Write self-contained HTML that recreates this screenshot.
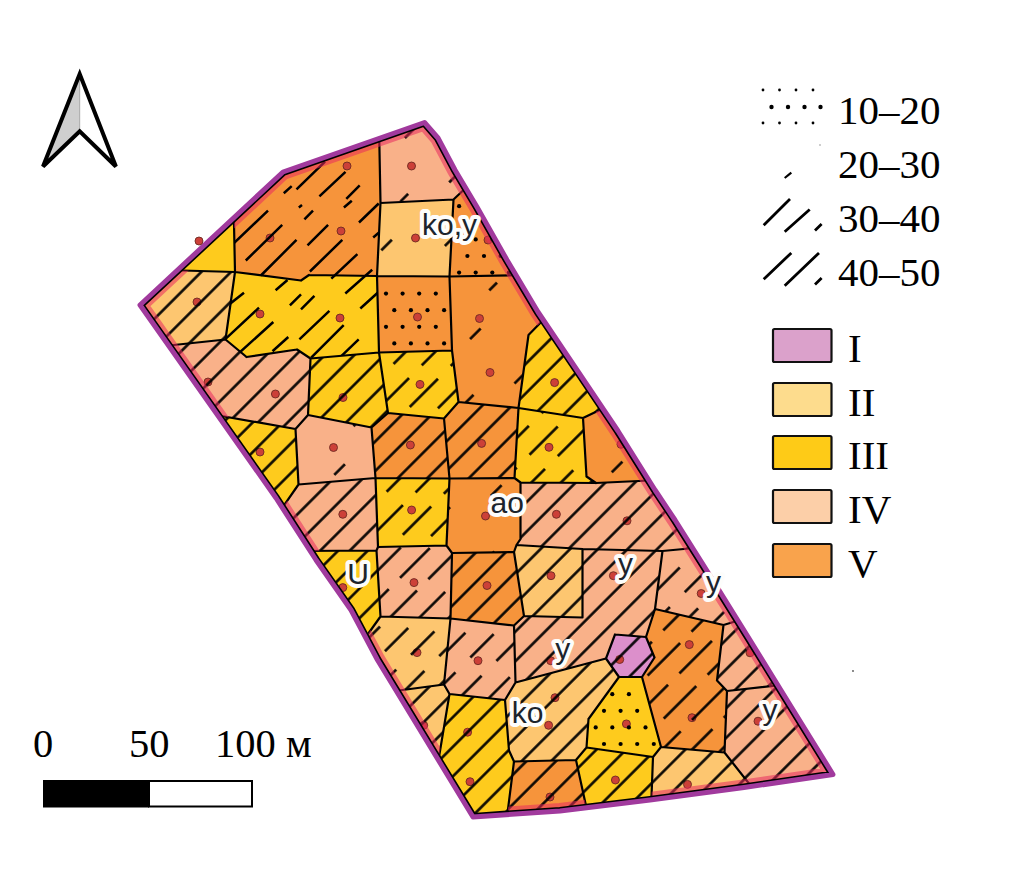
<!DOCTYPE html><html><head><meta charset="utf-8"><style>html,body{margin:0;padding:0;background:#fff;}svg{display:block;}</style></head><body>
<svg width="1011" height="874" viewBox="0 0 1011 874">
<defs>
<clipPath id="bc"><path d="M424.5,122.5 L283.0,172.0 L140.0,305.0 L276.0,498.0 L316.0,560.0 L351.0,610.0 L377.5,660.0 L473.0,817.0 L560.0,811.0 L650.0,800.0 L744.0,787.5 L833.0,774.5 L787.0,700.0 L750.0,640.0 L704.0,566.0 L675.0,520.0 L655.0,490.0 L618.0,431.0 L538.0,312.0 L507.0,260.0 L477.0,207.0 L455.0,170.0 L438.0,138.0 Z"/></clipPath>
<pattern id="p_C" patternUnits="userSpaceOnUse" width="96" height="62.791" patternTransform="translate(-4.80,0) rotate(-45)"><rect x="0" y="9.215" width="15" height="2.50" fill="#000"/><rect x="48" y="51.076" width="11" height="2.50" fill="#000"/></pattern>
<pattern id="p_D" patternUnits="userSpaceOnUse" width="96" height="62.791" patternTransform="translate(-4.80,0) rotate(-45)"><rect x="0" y="9.215" width="15" height="2.50" fill="#000"/><rect x="48" y="51.076" width="11" height="2.50" fill="#000"/></pattern>
<pattern id="p_E" patternUnits="userSpaceOnUse" x="455.10" y="235.40" width="16.6" height="33.2"><circle cx="4" cy="4" r="2.1" fill="#000"/><circle cx="12.3" cy="20.6" r="2.1" fill="#000"/></pattern>
<pattern id="p_F" patternUnits="userSpaceOnUse" width="200" height="20.930" patternTransform="translate(14.50,0) rotate(-45)"><rect x="0" y="9.215" width="200" height="2.50" fill="#000"/></pattern>
<pattern id="p_H" patternUnits="userSpaceOnUse" x="382.00" y="289.60" width="16.6" height="33.2"><circle cx="4" cy="4" r="2.1" fill="#000"/><circle cx="12.3" cy="20.6" r="2.1" fill="#000"/></pattern>
<pattern id="p_I" patternUnits="userSpaceOnUse" width="96" height="62.791" patternTransform="translate(-4.80,0) rotate(-45)"><rect x="0" y="9.215" width="15" height="2.50" fill="#000"/><rect x="48" y="51.076" width="11" height="2.50" fill="#000"/></pattern>
<pattern id="p_P" patternUnits="userSpaceOnUse" width="200" height="20.930" patternTransform="translate(-13.20,0) rotate(-45)"><rect x="0" y="9.215" width="200" height="2.50" fill="#000"/></pattern>
<pattern id="p_S" patternUnits="userSpaceOnUse" width="96" height="62.791" patternTransform="translate(3.70,0) rotate(-45)"><rect x="0" y="9.215" width="15" height="2.50" fill="#000"/><rect x="48" y="51.076" width="11" height="2.50" fill="#000"/></pattern>
<pattern id="p_R" patternUnits="userSpaceOnUse" width="58" height="62.791" patternTransform="translate(-7.30,0) rotate(-45)"><rect x="0.00" y="9.215" width="40" height="2.50" fill="#000"/><rect x="-58.00" y="9.215" width="40" height="2.50" fill="#000"/><rect x="19.00" y="30.146" width="40" height="2.50" fill="#000"/><rect x="-39.00" y="30.146" width="40" height="2.50" fill="#000"/><rect x="38.00" y="51.076" width="40" height="2.50" fill="#000"/><rect x="-20.00" y="51.076" width="40" height="2.50" fill="#000"/></pattern>
<pattern id="p_J" patternUnits="userSpaceOnUse" width="200" height="20.930" patternTransform="translate(14.50,0) rotate(-45)"><rect x="0" y="9.215" width="200" height="2.50" fill="#000"/></pattern>
<pattern id="p_K" patternUnits="userSpaceOnUse" width="200" height="20.930" patternTransform="translate(13.80,0) rotate(-45)"><rect x="0" y="9.215" width="200" height="2.50" fill="#000"/></pattern>
<pattern id="p_L" patternUnits="userSpaceOnUse" width="58" height="62.791" patternTransform="translate(2.70,0) rotate(-45)"><rect x="0.00" y="9.215" width="40" height="2.50" fill="#000"/><rect x="-58.00" y="9.215" width="40" height="2.50" fill="#000"/><rect x="19.00" y="30.146" width="40" height="2.50" fill="#000"/><rect x="-39.00" y="30.146" width="40" height="2.50" fill="#000"/><rect x="38.00" y="51.076" width="40" height="2.50" fill="#000"/><rect x="-20.00" y="51.076" width="40" height="2.50" fill="#000"/></pattern>
<pattern id="p_M" patternUnits="userSpaceOnUse" width="200" height="20.930" patternTransform="translate(9.20,0) rotate(-45)"><rect x="0" y="9.215" width="200" height="2.50" fill="#000"/></pattern>
<pattern id="p_N" patternUnits="userSpaceOnUse" width="96" height="62.791" patternTransform="translate(-4.80,0) rotate(-45)"><rect x="0" y="9.215" width="15" height="2.50" fill="#000"/><rect x="48" y="51.076" width="11" height="2.50" fill="#000"/></pattern>
<pattern id="p_O" patternUnits="userSpaceOnUse" width="200" height="20.930" patternTransform="translate(2.70,0) rotate(-45)"><rect x="0" y="9.215" width="200" height="2.50" fill="#000"/></pattern>
<pattern id="p_Q" patternUnits="userSpaceOnUse" width="200" height="20.930" patternTransform="translate(14.70,0) rotate(-45)"><rect x="0" y="9.215" width="200" height="2.50" fill="#000"/></pattern>
<pattern id="p_T" patternUnits="userSpaceOnUse" width="58" height="62.791" patternTransform="translate(5.20,0) rotate(-45)"><rect x="0.00" y="9.215" width="40" height="2.50" fill="#000"/><rect x="-58.00" y="9.215" width="40" height="2.50" fill="#000"/><rect x="19.00" y="30.146" width="40" height="2.50" fill="#000"/><rect x="-39.00" y="30.146" width="40" height="2.50" fill="#000"/><rect x="38.00" y="51.076" width="40" height="2.50" fill="#000"/><rect x="-20.00" y="51.076" width="40" height="2.50" fill="#000"/></pattern>
<pattern id="p_U" patternUnits="userSpaceOnUse" width="96" height="62.791" patternTransform="translate(-4.80,0) rotate(-45)"><rect x="0" y="9.215" width="15" height="2.50" fill="#000"/><rect x="48" y="51.076" width="11" height="2.50" fill="#000"/></pattern>
<pattern id="p_Z" patternUnits="userSpaceOnUse" width="200" height="20.930" patternTransform="translate(-2.30,0) rotate(-45)"><rect x="0" y="9.215" width="200" height="2.50" fill="#000"/></pattern>
<pattern id="p_Up" patternUnits="userSpaceOnUse" width="200" height="20.930" patternTransform="translate(-14.00,0) rotate(-45)"><rect x="0" y="9.215" width="200" height="2.50" fill="#000"/></pattern>
<pattern id="p_AA" patternUnits="userSpaceOnUse" width="58" height="62.791" patternTransform="translate(-13.70,0) rotate(-45)"><rect x="0.00" y="9.215" width="42" height="2.50" fill="#000"/><rect x="-58.00" y="9.215" width="42" height="2.50" fill="#000"/><rect x="19.00" y="30.146" width="42" height="2.50" fill="#000"/><rect x="-39.00" y="30.146" width="42" height="2.50" fill="#000"/><rect x="38.00" y="51.076" width="42" height="2.50" fill="#000"/><rect x="-20.00" y="51.076" width="42" height="2.50" fill="#000"/></pattern>
<pattern id="p_AB" patternUnits="userSpaceOnUse" width="200" height="20.930" patternTransform="translate(7.20,0) rotate(-45)"><rect x="0" y="9.215" width="200" height="2.50" fill="#000"/></pattern>
<pattern id="p_V" patternUnits="userSpaceOnUse" width="200" height="20.930" patternTransform="translate(7.50,0) rotate(-45)"><rect x="0" y="9.215" width="200" height="2.50" fill="#000"/></pattern>
<pattern id="p_W" patternUnits="userSpaceOnUse" width="200" height="20.930" patternTransform="translate(9.20,0) rotate(-45)"><rect x="0" y="9.215" width="200" height="2.50" fill="#000"/></pattern>
<pattern id="p_X" patternUnits="userSpaceOnUse" width="200" height="20.930" patternTransform="translate(7.40,0) rotate(-45)"><rect x="0" y="9.215" width="200" height="2.50" fill="#000"/></pattern>
<pattern id="p_Y" patternUnits="userSpaceOnUse" width="54" height="62.791" patternTransform="translate(-10.70,0) rotate(-45)"><rect x="0.00" y="9.215" width="33" height="2.50" fill="#000"/><rect x="-54.00" y="9.215" width="33" height="2.50" fill="#000"/><rect x="19.00" y="30.146" width="33" height="2.50" fill="#000"/><rect x="-35.00" y="30.146" width="33" height="2.50" fill="#000"/><rect x="38.00" y="51.076" width="33" height="2.50" fill="#000"/><rect x="-16.00" y="51.076" width="33" height="2.50" fill="#000"/></pattern>
<pattern id="p_OR" patternUnits="userSpaceOnUse" width="62" height="62.791" patternTransform="translate(6.00,0) rotate(-45)"><rect x="0.00" y="9.215" width="46" height="2.50" fill="#000"/><rect x="-62.00" y="9.215" width="46" height="2.50" fill="#000"/><rect x="19.00" y="30.146" width="46" height="2.50" fill="#000"/><rect x="-43.00" y="30.146" width="46" height="2.50" fill="#000"/><rect x="38.00" y="51.076" width="46" height="2.50" fill="#000"/><rect x="-24.00" y="51.076" width="46" height="2.50" fill="#000"/></pattern>
<pattern id="p_AF" patternUnits="userSpaceOnUse" width="200" height="20.930" patternTransform="translate(-10.50,0) rotate(-45)"><rect x="0" y="9.215" width="200" height="2.50" fill="#000"/></pattern>
<pattern id="p_AG" patternUnits="userSpaceOnUse" width="200" height="20.930" patternTransform="translate(-1.20,0) rotate(-45)"><rect x="0" y="9.215" width="200" height="2.50" fill="#000"/></pattern>
<pattern id="p_AH" patternUnits="userSpaceOnUse" width="200" height="20.930" patternTransform="translate(-0.70,0) rotate(-45)"><rect x="0" y="9.215" width="200" height="2.50" fill="#000"/></pattern>
<pattern id="p_HEX" patternUnits="userSpaceOnUse" width="200" height="20.930" patternTransform="translate(-11.10,0) rotate(-45)"><rect x="0" y="9.215" width="200" height="2.50" fill="#000"/></pattern>
<pattern id="p_DY" patternUnits="userSpaceOnUse" x="600.00" y="706.80" width="16.6" height="33.2"><circle cx="4" cy="4" r="2.1" fill="#000"/><circle cx="12.3" cy="20.6" r="2.1" fill="#000"/></pattern>
<pattern id="p_KO" patternUnits="userSpaceOnUse" width="200" height="20.930" patternTransform="translate(-4.80,0) rotate(-45)"><rect x="0" y="9.215" width="200" height="2.50" fill="#000"/></pattern>
<pattern id="p_AD" patternUnits="userSpaceOnUse" width="54" height="62.791" patternTransform="translate(-11.80,0) rotate(-45)"><rect x="0.00" y="9.215" width="33" height="2.50" fill="#000"/><rect x="-54.00" y="9.215" width="33" height="2.50" fill="#000"/><rect x="19.00" y="30.146" width="33" height="2.50" fill="#000"/><rect x="-35.00" y="30.146" width="33" height="2.50" fill="#000"/><rect x="38.00" y="51.076" width="33" height="2.50" fill="#000"/><rect x="-16.00" y="51.076" width="33" height="2.50" fill="#000"/></pattern>
<pattern id="p_AC1" patternUnits="userSpaceOnUse" width="54" height="62.791" patternTransform="translate(-14.60,0) rotate(-45)"><rect x="0.00" y="9.215" width="33" height="2.50" fill="#000"/><rect x="-54.00" y="9.215" width="33" height="2.50" fill="#000"/><rect x="19.00" y="30.146" width="33" height="2.50" fill="#000"/><rect x="-35.00" y="30.146" width="33" height="2.50" fill="#000"/><rect x="38.00" y="51.076" width="33" height="2.50" fill="#000"/><rect x="-16.00" y="51.076" width="33" height="2.50" fill="#000"/></pattern>
<pattern id="p_AC2" patternUnits="userSpaceOnUse" width="200" height="20.930" patternTransform="translate(6.20,0) rotate(-45)"><rect x="0" y="9.215" width="200" height="2.50" fill="#000"/></pattern>
<pattern id="p_AE" patternUnits="userSpaceOnUse" width="200" height="20.930" patternTransform="translate(0.90,0) rotate(-45)"><rect x="0" y="9.215" width="200" height="2.50" fill="#000"/></pattern>
<pattern id="p_AI" patternUnits="userSpaceOnUse" width="200" height="20.930" patternTransform="translate(-0.00,0) rotate(-45)"><rect x="0" y="9.215" width="200" height="2.50" fill="#000"/></pattern>
<pattern id="p_AJ" patternUnits="userSpaceOnUse" width="200" height="20.930" patternTransform="translate(-0.70,0) rotate(-45)"><rect x="0" y="9.215" width="200" height="2.50" fill="#000"/></pattern>
<clipPath id="c_A"><polygon points="233.5,200.0 235.0,272.0 165.0,270.0 110.0,300.0 120.0,200.0"/></clipPath>
<clipPath id="c_B"><polygon points="233.5,200.0 120.0,200.0 290.0,140.0 430.0,100.0 379.0,125.0 380.5,203.0 377.0,276.0 309.0,275.0 301.0,280.5 235.0,272.0"/></clipPath>
<clipPath id="c_C"><polygon points="379.0,125.0 430.0,100.0 560.0,200.0 472.0,182.0 453.5,199.5 380.5,203.0"/></clipPath>
<clipPath id="c_D"><polygon points="380.5,203.0 453.5,199.5 449.5,276.5 377.0,276.0"/></clipPath>
<clipPath id="c_E"><polygon points="453.5,199.5 472.0,182.0 560.0,200.0 530.0,275.0 449.5,276.5"/></clipPath>
<clipPath id="c_F"><polygon points="165.0,270.0 235.0,272.0 225.5,339.5 155.0,347.0 110.0,300.0"/></clipPath>
<clipPath id="c_G"><polygon points="235.0,272.0 301.0,280.5 309.0,275.0 377.0,276.0 379.0,352.5 310.5,358.5 297.0,349.5 246.5,357.0 243.0,354.0 225.5,339.5"/></clipPath>
<clipPath id="c_H"><polygon points="377.0,276.0 449.5,276.5 452.0,350.5 379.0,352.5"/></clipPath>
<clipPath id="c_I"><polygon points="449.5,276.5 530.0,275.0 560.0,200.0 548.0,315.0 528.5,335.0 518.5,408.0 458.5,402.0 452.0,350.5"/></clipPath>
<clipPath id="c_P"><polygon points="548.0,315.0 560.0,200.0 700.0,460.0 606.0,407.0 583.0,418.0 518.5,408.0 528.5,335.0"/></clipPath>
<clipPath id="c_S"><polygon points="606.0,407.0 700.0,460.0 660.0,480.0 596.0,483.0 586.5,476.5 583.0,418.0"/></clipPath>
<clipPath id="c_R"><polygon points="518.5,408.0 583.0,418.0 586.5,476.5 596.0,483.0 520.5,482.5 514.5,478.0"/></clipPath>
<clipPath id="c_J"><polygon points="155.0,347.0 225.5,339.5 243.0,354.0 246.5,357.0 297.0,349.5 310.5,358.5 308.0,415.0 295.5,429.0 210.0,414.0 110.0,300.0"/></clipPath>
<clipPath id="c_K"><polygon points="310.5,358.5 379.0,352.5 388.0,413.0 371.5,427.5 308.0,415.0"/></clipPath>
<clipPath id="c_L"><polygon points="379.0,352.5 452.0,350.5 458.5,402.0 444.0,418.5 388.0,413.0"/></clipPath>
<clipPath id="c_M"><polygon points="210.0,414.0 295.5,429.0 298.5,484.5 278.0,514.0 250.0,520.0 110.0,300.0"/></clipPath>
<clipPath id="c_N"><polygon points="295.5,429.0 308.0,415.0 371.5,427.5 375.5,478.0 298.5,484.5"/></clipPath>
<clipPath id="c_O"><polygon points="371.5,427.5 388.0,413.0 444.0,418.5 449.5,478.5 375.5,478.0"/></clipPath>
<clipPath id="c_Q"><polygon points="444.0,418.5 458.5,402.0 518.5,408.0 514.5,478.0 449.5,478.5"/></clipPath>
<clipPath id="c_T"><polygon points="375.5,478.0 449.5,478.5 446.5,545.5 378.0,547.0"/></clipPath>
<clipPath id="c_U"><polygon points="449.5,478.5 514.5,478.0 520.5,482.5 520.5,539.0 516.5,545.0 514.0,552.0 452.0,553.0 446.5,545.5"/></clipPath>
<clipPath id="c_Z"><polygon points="298.5,484.5 375.5,478.0 378.0,547.0 376.5,550.5 300.0,551.0 250.0,520.0 278.0,514.0"/></clipPath>
<clipPath id="c_Up"><polygon points="300.0,551.0 376.5,550.5 380.5,616.5 358.0,648.0 330.0,640.0 250.0,520.0"/></clipPath>
<clipPath id="c_AA"><polygon points="376.5,550.5 378.0,547.0 446.5,545.5 452.0,553.0 450.5,618.5 380.5,616.5"/></clipPath>
<clipPath id="c_AB"><polygon points="452.0,553.0 514.0,552.0 524.0,616.0 514.0,625.5 450.5,618.5"/></clipPath>
<clipPath id="c_V"><polygon points="520.5,482.5 596.0,483.0 660.0,480.0 700.0,460.0 705.0,547.0 662.5,551.0 582.5,549.0 516.5,545.0 520.5,539.0"/></clipPath>
<clipPath id="c_W"><polygon points="516.5,545.0 582.5,549.0 582.5,617.5 524.0,616.0 514.0,552.0"/></clipPath>
<clipPath id="c_X"><polygon points="582.5,549.0 662.5,551.0 655.0,609.0 646.0,637.0 615.0,634.5 606.0,658.5 515.5,682.5 514.0,625.5 524.0,616.0 582.5,617.5"/></clipPath>
<clipPath id="c_Y"><polygon points="662.5,551.0 705.0,547.0 850.0,700.0 750.0,617.0 723.5,625.0 655.0,609.0"/></clipPath>
<clipPath id="c_OR"><polygon points="655.0,609.0 723.5,625.0 717.0,680.5 727.0,691.0 724.5,752.5 661.0,747.0 642.0,677.0 654.5,657.5 646.0,637.0"/></clipPath>
<clipPath id="c_AF"><polygon points="750.0,617.0 850.0,700.0 790.0,684.0 727.0,691.0 717.0,680.5 723.5,625.0"/></clipPath>
<clipPath id="c_AG"><polygon points="727.0,691.0 790.0,684.0 850.0,700.0 860.0,790.0 758.0,795.0 724.5,752.5"/></clipPath>
<clipPath id="c_AH"><polygon points="653.0,757.0 661.0,747.0 724.5,752.5 758.0,795.0 860.0,790.0 470.0,840.0 651.0,810.0"/></clipPath>
<clipPath id="c_HEX"><polygon points="615.0,634.5 646.0,637.0 654.5,657.5 642.0,677.0 619.0,677.0 606.0,658.5"/></clipPath>
<clipPath id="c_DY"><polygon points="619.0,677.0 642.0,677.0 661.0,747.0 653.0,757.0 586.5,747.5 588.5,719.0"/></clipPath>
<clipPath id="c_KO"><polygon points="515.5,682.5 606.0,658.5 619.0,677.0 588.5,719.0 586.5,747.5 576.0,760.0 514.0,761.5 509.0,750.5 505.0,700.0"/></clipPath>
<clipPath id="c_AD"><polygon points="450.5,618.5 514.0,625.5 515.5,682.5 505.0,700.0 449.5,694.0 444.0,684.5"/></clipPath>
<clipPath id="c_AC1"><polygon points="380.5,616.5 450.5,618.5 444.0,684.5 380.0,693.0 330.0,640.0 358.0,648.0"/></clipPath>
<clipPath id="c_AC2"><polygon points="380.0,693.0 444.0,684.5 449.5,694.0 436.0,775.0 470.0,840.0 330.0,640.0"/></clipPath>
<clipPath id="c_AE"><polygon points="449.5,694.0 505.0,700.0 509.0,750.5 514.0,761.5 506.0,825.0 470.0,840.0 436.0,775.0"/></clipPath>
<clipPath id="c_AI"><polygon points="514.0,761.5 576.0,760.0 588.0,815.0 470.0,840.0 506.0,825.0"/></clipPath>
<clipPath id="c_AJ"><polygon points="576.0,760.0 586.5,747.5 653.0,757.0 651.0,810.0 470.0,840.0 588.0,815.0"/></clipPath>
</defs>
<rect width="1011" height="874" fill="#fff"/>
<g clip-path="url(#bc)">
<polygon points="233.5,200.0 235.0,272.0 165.0,270.0 110.0,300.0 120.0,200.0" fill="#FECB1D"/>
<polygon points="233.5,200.0 120.0,200.0 290.0,140.0 430.0,100.0 379.0,125.0 380.5,203.0 377.0,276.0 309.0,275.0 301.0,280.5 235.0,272.0" fill="#F6943B"/>
<polygon points="379.0,125.0 430.0,100.0 560.0,200.0 472.0,182.0 453.5,199.5 380.5,203.0" fill="#F9B189"/>
<polygon points="380.5,203.0 453.5,199.5 449.5,276.5 377.0,276.0" fill="#FDC670"/>
<polygon points="453.5,199.5 472.0,182.0 560.0,200.0 530.0,275.0 449.5,276.5" fill="#F6943B"/>
<polygon points="165.0,270.0 235.0,272.0 225.5,339.5 155.0,347.0 110.0,300.0" fill="#FDC670"/>
<polygon points="235.0,272.0 301.0,280.5 309.0,275.0 377.0,276.0 379.0,352.5 310.5,358.5 297.0,349.5 246.5,357.0 243.0,354.0 225.5,339.5" fill="#FECB1D"/>
<polygon points="377.0,276.0 449.5,276.5 452.0,350.5 379.0,352.5" fill="#F6943B"/>
<polygon points="449.5,276.5 530.0,275.0 560.0,200.0 548.0,315.0 528.5,335.0 518.5,408.0 458.5,402.0 452.0,350.5" fill="#F6943B"/>
<polygon points="548.0,315.0 560.0,200.0 700.0,460.0 606.0,407.0 583.0,418.0 518.5,408.0 528.5,335.0" fill="#FECB1D"/>
<polygon points="606.0,407.0 700.0,460.0 660.0,480.0 596.0,483.0 586.5,476.5 583.0,418.0" fill="#F6943B"/>
<polygon points="518.5,408.0 583.0,418.0 586.5,476.5 596.0,483.0 520.5,482.5 514.5,478.0" fill="#FECB1D"/>
<polygon points="155.0,347.0 225.5,339.5 243.0,354.0 246.5,357.0 297.0,349.5 310.5,358.5 308.0,415.0 295.5,429.0 210.0,414.0 110.0,300.0" fill="#F9B189"/>
<polygon points="310.5,358.5 379.0,352.5 388.0,413.0 371.5,427.5 308.0,415.0" fill="#FECB1D"/>
<polygon points="379.0,352.5 452.0,350.5 458.5,402.0 444.0,418.5 388.0,413.0" fill="#FECB1D"/>
<polygon points="210.0,414.0 295.5,429.0 298.5,484.5 278.0,514.0 250.0,520.0 110.0,300.0" fill="#FECB1D"/>
<polygon points="295.5,429.0 308.0,415.0 371.5,427.5 375.5,478.0 298.5,484.5" fill="#F9B189"/>
<polygon points="371.5,427.5 388.0,413.0 444.0,418.5 449.5,478.5 375.5,478.0" fill="#F6943B"/>
<polygon points="444.0,418.5 458.5,402.0 518.5,408.0 514.5,478.0 449.5,478.5" fill="#F6943B"/>
<polygon points="375.5,478.0 449.5,478.5 446.5,545.5 378.0,547.0" fill="#FECB1D"/>
<polygon points="449.5,478.5 514.5,478.0 520.5,482.5 520.5,539.0 516.5,545.0 514.0,552.0 452.0,553.0 446.5,545.5" fill="#F6943B"/>
<polygon points="298.5,484.5 375.5,478.0 378.0,547.0 376.5,550.5 300.0,551.0 250.0,520.0 278.0,514.0" fill="#F9B189"/>
<polygon points="300.0,551.0 376.5,550.5 380.5,616.5 358.0,648.0 330.0,640.0 250.0,520.0" fill="#FECB1D"/>
<polygon points="376.5,550.5 378.0,547.0 446.5,545.5 452.0,553.0 450.5,618.5 380.5,616.5" fill="#F9B189"/>
<polygon points="452.0,553.0 514.0,552.0 524.0,616.0 514.0,625.5 450.5,618.5" fill="#F6943B"/>
<polygon points="520.5,482.5 596.0,483.0 660.0,480.0 700.0,460.0 705.0,547.0 662.5,551.0 582.5,549.0 516.5,545.0 520.5,539.0" fill="#F9B189"/>
<polygon points="516.5,545.0 582.5,549.0 582.5,617.5 524.0,616.0 514.0,552.0" fill="#FDC670"/>
<polygon points="582.5,549.0 662.5,551.0 655.0,609.0 646.0,637.0 615.0,634.5 606.0,658.5 515.5,682.5 514.0,625.5 524.0,616.0 582.5,617.5" fill="#F9B189"/>
<polygon points="662.5,551.0 705.0,547.0 850.0,700.0 750.0,617.0 723.5,625.0 655.0,609.0" fill="#F9B189"/>
<polygon points="655.0,609.0 723.5,625.0 717.0,680.5 727.0,691.0 724.5,752.5 661.0,747.0 642.0,677.0 654.5,657.5 646.0,637.0" fill="#F6943B"/>
<polygon points="750.0,617.0 850.0,700.0 790.0,684.0 727.0,691.0 717.0,680.5 723.5,625.0" fill="#F9B189"/>
<polygon points="727.0,691.0 790.0,684.0 850.0,700.0 860.0,790.0 758.0,795.0 724.5,752.5" fill="#F9B189"/>
<polygon points="653.0,757.0 661.0,747.0 724.5,752.5 758.0,795.0 860.0,790.0 470.0,840.0 651.0,810.0" fill="#FDC670"/>
<polygon points="615.0,634.5 646.0,637.0 654.5,657.5 642.0,677.0 619.0,677.0 606.0,658.5" fill="#DC8FCB"/>
<polygon points="619.0,677.0 642.0,677.0 661.0,747.0 653.0,757.0 586.5,747.5 588.5,719.0" fill="#FECB1D"/>
<polygon points="515.5,682.5 606.0,658.5 619.0,677.0 588.5,719.0 586.5,747.5 576.0,760.0 514.0,761.5 509.0,750.5 505.0,700.0" fill="#FDC670"/>
<polygon points="450.5,618.5 514.0,625.5 515.5,682.5 505.0,700.0 449.5,694.0 444.0,684.5" fill="#F9B189"/>
<polygon points="380.5,616.5 450.5,618.5 444.0,684.5 380.0,693.0 330.0,640.0 358.0,648.0" fill="#FDC670"/>
<polygon points="380.0,693.0 444.0,684.5 449.5,694.0 436.0,775.0 470.0,840.0 330.0,640.0" fill="#FDC670"/>
<polygon points="449.5,694.0 505.0,700.0 509.0,750.5 514.0,761.5 506.0,825.0 470.0,840.0 436.0,775.0" fill="#FECB1D"/>
<polygon points="514.0,761.5 576.0,760.0 588.0,815.0 470.0,840.0 506.0,825.0" fill="#F6943B"/>
<polygon points="576.0,760.0 586.5,747.5 653.0,757.0 651.0,810.0 470.0,840.0 588.0,815.0" fill="#FECB1D"/>
<circle cx="270.0" cy="238.0" r="4.0" fill="#CC4038" stroke="#6e2a22" stroke-width="0.9"/>
<circle cx="341.0" cy="231.0" r="4.0" fill="#CC4038" stroke="#6e2a22" stroke-width="0.9"/>
<circle cx="347.0" cy="166.0" r="4.0" fill="#CC4038" stroke="#6e2a22" stroke-width="0.9"/>
<circle cx="411.5" cy="166.0" r="4.0" fill="#CC4038" stroke="#6e2a22" stroke-width="0.9"/>
<circle cx="415.5" cy="238.0" r="4.0" fill="#CC4038" stroke="#6e2a22" stroke-width="0.9"/>
<circle cx="488.0" cy="240.0" r="4.0" fill="#CC4038" stroke="#6e2a22" stroke-width="0.9"/>
<circle cx="197.0" cy="302.0" r="4.0" fill="#CC4038" stroke="#6e2a22" stroke-width="0.9"/>
<circle cx="260.0" cy="314.0" r="4.0" fill="#CC4038" stroke="#6e2a22" stroke-width="0.9"/>
<circle cx="340.0" cy="318.0" r="4.0" fill="#CC4038" stroke="#6e2a22" stroke-width="0.9"/>
<circle cx="417.5" cy="317.0" r="4.0" fill="#CC4038" stroke="#6e2a22" stroke-width="0.9"/>
<circle cx="479.5" cy="318.5" r="4.0" fill="#CC4038" stroke="#6e2a22" stroke-width="0.9"/>
<circle cx="490.0" cy="372.5" r="4.0" fill="#CC4038" stroke="#6e2a22" stroke-width="0.9"/>
<circle cx="554.6" cy="382.6" r="4.0" fill="#CC4038" stroke="#6e2a22" stroke-width="0.9"/>
<circle cx="208.0" cy="382.0" r="4.0" fill="#CC4038" stroke="#6e2a22" stroke-width="0.9"/>
<circle cx="275.4" cy="394.0" r="4.0" fill="#CC4038" stroke="#6e2a22" stroke-width="0.9"/>
<circle cx="343.0" cy="397.5" r="4.0" fill="#CC4038" stroke="#6e2a22" stroke-width="0.9"/>
<circle cx="420.0" cy="384.4" r="4.0" fill="#CC4038" stroke="#6e2a22" stroke-width="0.9"/>
<circle cx="260.0" cy="452.0" r="4.0" fill="#CC4038" stroke="#6e2a22" stroke-width="0.9"/>
<circle cx="333.5" cy="447.5" r="4.0" fill="#CC4038" stroke="#6e2a22" stroke-width="0.9"/>
<circle cx="410.4" cy="445.0" r="4.0" fill="#CC4038" stroke="#6e2a22" stroke-width="0.9"/>
<circle cx="481.6" cy="443.4" r="4.0" fill="#CC4038" stroke="#6e2a22" stroke-width="0.9"/>
<circle cx="549.0" cy="447.3" r="4.0" fill="#CC4038" stroke="#6e2a22" stroke-width="0.9"/>
<circle cx="621.0" cy="444.3" r="4.0" fill="#CC4038" stroke="#6e2a22" stroke-width="0.9"/>
<circle cx="342.8" cy="514.3" r="4.0" fill="#CC4038" stroke="#6e2a22" stroke-width="0.9"/>
<circle cx="411.6" cy="510.0" r="4.0" fill="#CC4038" stroke="#6e2a22" stroke-width="0.9"/>
<circle cx="485.5" cy="516.0" r="4.0" fill="#CC4038" stroke="#6e2a22" stroke-width="0.9"/>
<circle cx="556.4" cy="514.3" r="4.0" fill="#CC4038" stroke="#6e2a22" stroke-width="0.9"/>
<circle cx="627.0" cy="520.8" r="4.0" fill="#CC4038" stroke="#6e2a22" stroke-width="0.9"/>
<circle cx="342.8" cy="587.6" r="4.0" fill="#CC4038" stroke="#6e2a22" stroke-width="0.9"/>
<circle cx="414.0" cy="582.6" r="4.0" fill="#CC4038" stroke="#6e2a22" stroke-width="0.9"/>
<circle cx="487.0" cy="585.5" r="4.0" fill="#CC4038" stroke="#6e2a22" stroke-width="0.9"/>
<circle cx="551.0" cy="575.7" r="4.0" fill="#CC4038" stroke="#6e2a22" stroke-width="0.9"/>
<circle cx="613.4" cy="575.7" r="4.0" fill="#CC4038" stroke="#6e2a22" stroke-width="0.9"/>
<circle cx="701.2" cy="593.5" r="4.0" fill="#CC4038" stroke="#6e2a22" stroke-width="0.9"/>
<circle cx="417.0" cy="652.6" r="4.0" fill="#CC4038" stroke="#6e2a22" stroke-width="0.9"/>
<circle cx="478.0" cy="660.7" r="4.0" fill="#CC4038" stroke="#6e2a22" stroke-width="0.9"/>
<circle cx="550.7" cy="660.7" r="4.0" fill="#CC4038" stroke="#6e2a22" stroke-width="0.9"/>
<circle cx="619.7" cy="659.5" r="4.0" fill="#CC4038" stroke="#6e2a22" stroke-width="0.9"/>
<circle cx="689.3" cy="644.6" r="4.0" fill="#CC4038" stroke="#6e2a22" stroke-width="0.9"/>
<circle cx="750.0" cy="652.8" r="4.0" fill="#CC4038" stroke="#6e2a22" stroke-width="0.9"/>
<circle cx="555.0" cy="697.7" r="4.0" fill="#CC4038" stroke="#6e2a22" stroke-width="0.9"/>
<circle cx="423.7" cy="725.3" r="4.0" fill="#CC4038" stroke="#6e2a22" stroke-width="0.9"/>
<circle cx="467.6" cy="732.2" r="4.0" fill="#CC4038" stroke="#6e2a22" stroke-width="0.9"/>
<circle cx="548.6" cy="725.3" r="4.0" fill="#CC4038" stroke="#6e2a22" stroke-width="0.9"/>
<circle cx="626.4" cy="723.9" r="4.0" fill="#CC4038" stroke="#6e2a22" stroke-width="0.9"/>
<circle cx="692.0" cy="717.7" r="4.0" fill="#CC4038" stroke="#6e2a22" stroke-width="0.9"/>
<circle cx="758.0" cy="721.2" r="4.0" fill="#CC4038" stroke="#6e2a22" stroke-width="0.9"/>
<circle cx="470.0" cy="781.7" r="4.0" fill="#CC4038" stroke="#6e2a22" stroke-width="0.9"/>
<circle cx="550.0" cy="797.0" r="4.0" fill="#CC4038" stroke="#6e2a22" stroke-width="0.9"/>
<circle cx="615.4" cy="780.0" r="4.0" fill="#CC4038" stroke="#6e2a22" stroke-width="0.9"/>
<circle cx="687.5" cy="784.4" r="4.0" fill="#CC4038" stroke="#6e2a22" stroke-width="0.9"/>
<rect x="100" y="100" width="760" height="740" fill="url(#p_C)" clip-path="url(#c_C)"/>
<rect x="100" y="100" width="760" height="740" fill="url(#p_D)" clip-path="url(#c_D)"/>
<g fill="#000"><circle cx="459.1" cy="206.2" r="2.1"/><circle cx="467.4" cy="222.8" r="2.1"/><circle cx="459.1" cy="239.4" r="2.1"/><circle cx="467.4" cy="256.0" r="2.1"/><circle cx="475.7" cy="239.4" r="2.1"/><circle cx="484.0" cy="256.0" r="2.1"/><circle cx="492.3" cy="239.4" r="2.1"/><circle cx="500.6" cy="256.0" r="2.1"/><circle cx="459.1" cy="272.6" r="2.1"/><circle cx="475.7" cy="272.6" r="2.1"/><circle cx="492.3" cy="272.6" r="2.1"/><circle cx="508.9" cy="272.6" r="2.1"/></g>
<rect x="100" y="100" width="760" height="740" fill="url(#p_F)" clip-path="url(#c_F)"/>
<g fill="#000"><circle cx="386.0" cy="293.6" r="2.1"/><circle cx="394.3" cy="310.2" r="2.1"/><circle cx="402.6" cy="293.6" r="2.1"/><circle cx="410.9" cy="310.2" r="2.1"/><circle cx="419.2" cy="293.6" r="2.1"/><circle cx="427.5" cy="310.2" r="2.1"/><circle cx="435.8" cy="293.6" r="2.1"/><circle cx="444.1" cy="310.2" r="2.1"/><circle cx="386.0" cy="326.8" r="2.1"/><circle cx="394.3" cy="343.4" r="2.1"/><circle cx="402.6" cy="326.8" r="2.1"/><circle cx="410.9" cy="343.4" r="2.1"/><circle cx="419.2" cy="326.8" r="2.1"/><circle cx="427.5" cy="343.4" r="2.1"/><circle cx="435.8" cy="326.8" r="2.1"/><circle cx="444.1" cy="343.4" r="2.1"/></g>
<rect x="100" y="100" width="760" height="740" fill="url(#p_I)" clip-path="url(#c_I)"/>
<rect x="100" y="100" width="760" height="740" fill="url(#p_P)" clip-path="url(#c_P)"/>
<rect x="100" y="100" width="760" height="740" fill="url(#p_S)" clip-path="url(#c_S)"/>
<rect x="100" y="100" width="760" height="740" fill="url(#p_R)" clip-path="url(#c_R)"/>
<rect x="100" y="100" width="760" height="740" fill="url(#p_J)" clip-path="url(#c_J)"/>
<rect x="100" y="100" width="760" height="740" fill="url(#p_K)" clip-path="url(#c_K)"/>
<rect x="100" y="100" width="760" height="740" fill="url(#p_L)" clip-path="url(#c_L)"/>
<rect x="100" y="100" width="760" height="740" fill="url(#p_M)" clip-path="url(#c_M)"/>
<rect x="100" y="100" width="760" height="740" fill="url(#p_N)" clip-path="url(#c_N)"/>
<rect x="100" y="100" width="760" height="740" fill="url(#p_O)" clip-path="url(#c_O)"/>
<rect x="100" y="100" width="760" height="740" fill="url(#p_Q)" clip-path="url(#c_Q)"/>
<rect x="100" y="100" width="760" height="740" fill="url(#p_T)" clip-path="url(#c_T)"/>
<rect x="100" y="100" width="760" height="740" fill="url(#p_U)" clip-path="url(#c_U)"/>
<rect x="100" y="100" width="760" height="740" fill="url(#p_Z)" clip-path="url(#c_Z)"/>
<rect x="100" y="100" width="760" height="740" fill="url(#p_Up)" clip-path="url(#c_Up)"/>
<rect x="100" y="100" width="760" height="740" fill="url(#p_AA)" clip-path="url(#c_AA)"/>
<rect x="100" y="100" width="760" height="740" fill="url(#p_AB)" clip-path="url(#c_AB)"/>
<rect x="100" y="100" width="760" height="740" fill="url(#p_V)" clip-path="url(#c_V)"/>
<rect x="100" y="100" width="760" height="740" fill="url(#p_W)" clip-path="url(#c_W)"/>
<rect x="100" y="100" width="760" height="740" fill="url(#p_X)" clip-path="url(#c_X)"/>
<rect x="100" y="100" width="760" height="740" fill="url(#p_Y)" clip-path="url(#c_Y)"/>
<rect x="100" y="100" width="760" height="740" fill="url(#p_OR)" clip-path="url(#c_OR)"/>
<rect x="100" y="100" width="760" height="740" fill="url(#p_AF)" clip-path="url(#c_AF)"/>
<rect x="100" y="100" width="760" height="740" fill="url(#p_AG)" clip-path="url(#c_AG)"/>
<rect x="100" y="100" width="760" height="740" fill="url(#p_AH)" clip-path="url(#c_AH)"/>
<rect x="100" y="100" width="760" height="740" fill="url(#p_HEX)" clip-path="url(#c_HEX)"/>
<g fill="#000"><circle cx="612.3" cy="694.2" r="2.1"/><circle cx="628.9" cy="694.2" r="2.1"/><circle cx="595.7" cy="727.4" r="2.1"/><circle cx="604.0" cy="710.8" r="2.1"/><circle cx="612.3" cy="727.4" r="2.1"/><circle cx="620.6" cy="710.8" r="2.1"/><circle cx="628.9" cy="727.4" r="2.1"/><circle cx="637.2" cy="710.8" r="2.1"/><circle cx="645.5" cy="727.4" r="2.1"/><circle cx="604.0" cy="744.0" r="2.1"/><circle cx="620.6" cy="744.0" r="2.1"/><circle cx="637.2" cy="744.0" r="2.1"/><circle cx="653.8" cy="744.0" r="2.1"/></g>
<rect x="100" y="100" width="760" height="740" fill="url(#p_KO)" clip-path="url(#c_KO)"/>
<rect x="100" y="100" width="760" height="740" fill="url(#p_AD)" clip-path="url(#c_AD)"/>
<rect x="100" y="100" width="760" height="740" fill="url(#p_AC1)" clip-path="url(#c_AC1)"/>
<rect x="100" y="100" width="760" height="740" fill="url(#p_AC2)" clip-path="url(#c_AC2)"/>
<rect x="100" y="100" width="760" height="740" fill="url(#p_AE)" clip-path="url(#c_AE)"/>
<rect x="100" y="100" width="760" height="740" fill="url(#p_AI)" clip-path="url(#c_AI)"/>
<rect x="100" y="100" width="760" height="740" fill="url(#p_AJ)" clip-path="url(#c_AJ)"/>
<g clip-path="url(#c_B)"><path d="M296.5,189.3 L325.0,161.6 M319.4,196.4 L345.5,171.9 M283.8,193.2 L291.7,186.1 M346.3,198.8 L359.7,185.3 M343.9,207.5 L351.8,200.8 M298.8,207.5 L302.0,205.1 M304.4,219.3 L313.0,210.6 M231.6,245.4 L268.0,210.6 M245.8,260.5 L282.2,224.9 M307.5,245.4 L328.1,224.9 M359.0,222.5 L378.7,203.5 M260.9,275.5 L296.5,239.9 M309.9,271.5 L342.3,239.9 M373.2,237.5 L378.7,232.8 M331.3,278.7 L357.4,254.1 M225.0,307.7 L244.0,292.7 M225.0,339.4 L259.0,307.7 M231.3,360.0 L273.3,322.0 M272.5,351.2 L288.3,337.0 M275.6,290.3 L287.5,280.0 M289.9,305.3 L301.0,294.3 M301.0,309.3 L314.4,295.9 M299.4,339.4 L329.4,310.9 M311.2,357.6 L343.7,325.1 M345.3,293.5 L372.2,269.7 M360.3,308.5 L377.7,292.7 M340.5,356.8 L358.7,339.4" stroke="#000" stroke-width="2.50" fill="none"/></g>
<g clip-path="url(#c_G)"><path d="M296.5,189.3 L325.0,161.6 M319.4,196.4 L345.5,171.9 M283.8,193.2 L291.7,186.1 M346.3,198.8 L359.7,185.3 M343.9,207.5 L351.8,200.8 M298.8,207.5 L302.0,205.1 M304.4,219.3 L313.0,210.6 M231.6,245.4 L268.0,210.6 M245.8,260.5 L282.2,224.9 M307.5,245.4 L328.1,224.9 M359.0,222.5 L378.7,203.5 M260.9,275.5 L296.5,239.9 M309.9,271.5 L342.3,239.9 M373.2,237.5 L378.7,232.8 M331.3,278.7 L357.4,254.1 M225.0,307.7 L244.0,292.7 M225.0,339.4 L259.0,307.7 M231.3,360.0 L273.3,322.0 M272.5,351.2 L288.3,337.0 M275.6,290.3 L287.5,280.0 M289.9,305.3 L301.0,294.3 M301.0,309.3 L314.4,295.9 M299.4,339.4 L329.4,310.9 M311.2,357.6 L343.7,325.1 M345.3,293.5 L372.2,269.7 M360.3,308.5 L377.7,292.7 M340.5,356.8 L358.7,339.4" stroke="#000" stroke-width="2.50" fill="none"/></g>
<path d="M233.5,200.0 L235.0,272.0 M472.0,182.0 L453.5,199.5 M449.5,276.5 L530.0,275.0 M449.5,276.5 L452.0,350.5 M449.5,276.5 L377.0,276.0 M449.5,276.5 L453.5,199.5 M379.0,352.5 L452.0,350.5 M379.0,352.5 L388.0,413.0 M379.0,352.5 L310.5,358.5 M379.0,352.5 L377.0,276.0 M452.0,350.5 L458.5,402.0 M458.5,402.0 L518.5,408.0 M458.5,402.0 L444.0,418.5 M518.5,408.0 L528.5,335.0 M518.5,408.0 L583.0,418.0 M518.5,408.0 L514.5,478.0 M528.5,335.0 L548.0,315.0 M583.0,418.0 L606.0,407.0 M583.0,418.0 L586.5,476.5 M235.0,272.0 L225.5,339.5 M235.0,272.0 L165.0,270.0 M235.0,272.0 L301.0,280.5 M444.0,418.5 L388.0,413.0 M444.0,418.5 L449.5,478.5 M388.0,413.0 L371.5,427.5 M371.5,427.5 L308.0,415.0 M371.5,427.5 L375.5,478.0 M308.0,415.0 L310.5,358.5 M308.0,415.0 L295.5,429.0 M310.5,358.5 L297.0,349.5 M297.0,349.5 L246.5,357.0 M246.5,357.0 L243.0,354.0 M243.0,354.0 L225.5,339.5 M225.5,339.5 L155.0,347.0 M295.5,429.0 L210.0,414.0 M295.5,429.0 L298.5,484.5 M298.5,484.5 L278.0,514.0 M298.5,484.5 L375.5,478.0 M375.5,478.0 L449.5,478.5 M375.5,478.0 L378.0,547.0 M449.5,478.5 L514.5,478.0 M449.5,478.5 L446.5,545.5 M514.5,478.0 L520.5,482.5 M520.5,482.5 L596.0,483.0 M520.5,482.5 L520.5,539.0 M301.0,280.5 L309.0,275.0 M586.5,476.5 L596.0,483.0 M596.0,483.0 L660.0,480.0 M446.5,545.5 L378.0,547.0 M446.5,545.5 L452.0,553.0 M378.0,547.0 L376.5,550.5 M376.5,550.5 L300.0,551.0 M376.5,550.5 L380.5,616.5 M520.5,539.0 L516.5,545.0 M514.0,552.0 L452.0,553.0 M514.0,552.0 L524.0,616.0 M514.0,552.0 L516.5,545.0 M452.0,553.0 L450.5,618.5 M309.0,275.0 L377.0,276.0 M380.5,616.5 L358.0,648.0 M380.5,616.5 L450.5,618.5 M450.5,618.5 L514.0,625.5 M450.5,618.5 L444.0,684.5 M524.0,616.0 L514.0,625.5 M524.0,616.0 L582.5,617.5 M514.0,625.5 L515.5,682.5 M516.5,545.0 L582.5,549.0 M582.5,549.0 L582.5,617.5 M582.5,549.0 L662.5,551.0 M705.0,547.0 L662.5,551.0 M377.0,276.0 L380.5,203.0 M662.5,551.0 L655.0,609.0 M655.0,609.0 L723.5,625.0 M655.0,609.0 L646.0,637.0 M515.5,682.5 L505.0,700.0 M515.5,682.5 L606.0,658.5 M750.0,617.0 L723.5,625.0 M723.5,625.0 L717.0,680.5 M717.0,680.5 L727.0,691.0 M727.0,691.0 L724.5,752.5 M727.0,691.0 L790.0,684.0 M724.5,752.5 L661.0,747.0 M724.5,752.5 L758.0,795.0 M661.0,747.0 L653.0,757.0 M661.0,747.0 L642.0,677.0 M379.0,125.0 L380.5,203.0 M651.0,810.0 L653.0,757.0 M653.0,757.0 L586.5,747.5 M586.5,747.5 L588.5,719.0 M586.5,747.5 L576.0,760.0 M588.5,719.0 L619.0,677.0 M576.0,760.0 L514.0,761.5 M576.0,760.0 L588.0,815.0 M514.0,761.5 L509.0,750.5 M514.0,761.5 L506.0,825.0 M509.0,750.5 L505.0,700.0 M505.0,700.0 L449.5,694.0 M380.5,203.0 L453.5,199.5 M449.5,694.0 L444.0,684.5 M449.5,694.0 L436.0,775.0 M444.0,684.5 L380.0,693.0 M615.0,634.5 L646.0,637.0 M615.0,634.5 L606.0,658.5 M646.0,637.0 L654.5,657.5 M654.5,657.5 L642.0,677.0 M642.0,677.0 L619.0,677.0 M619.0,677.0 L606.0,658.5" stroke="#000" stroke-width="2.2" fill="none" stroke-linecap="round"/>
<clipPath id="ny"><polygon points="233.5,200.0 120.0,200.0 290.0,140.0 430.0,100.0 379.0,125.0 380.5,203.0 377.0,276.0 309.0,275.0 301.0,280.5 235.0,272.0"/><polygon points="379.0,125.0 430.0,100.0 560.0,200.0 472.0,182.0 453.5,199.5 380.5,203.0"/><polygon points="380.5,203.0 453.5,199.5 449.5,276.5 377.0,276.0"/><polygon points="453.5,199.5 472.0,182.0 560.0,200.0 530.0,275.0 449.5,276.5"/><polygon points="165.0,270.0 235.0,272.0 225.5,339.5 155.0,347.0 110.0,300.0"/><polygon points="377.0,276.0 449.5,276.5 452.0,350.5 379.0,352.5"/><polygon points="449.5,276.5 530.0,275.0 560.0,200.0 548.0,315.0 528.5,335.0 518.5,408.0 458.5,402.0 452.0,350.5"/><polygon points="606.0,407.0 700.0,460.0 660.0,480.0 596.0,483.0 586.5,476.5 583.0,418.0"/><polygon points="155.0,347.0 225.5,339.5 243.0,354.0 246.5,357.0 297.0,349.5 310.5,358.5 308.0,415.0 295.5,429.0 210.0,414.0 110.0,300.0"/><polygon points="295.5,429.0 308.0,415.0 371.5,427.5 375.5,478.0 298.5,484.5"/><polygon points="371.5,427.5 388.0,413.0 444.0,418.5 449.5,478.5 375.5,478.0"/><polygon points="444.0,418.5 458.5,402.0 518.5,408.0 514.5,478.0 449.5,478.5"/><polygon points="449.5,478.5 514.5,478.0 520.5,482.5 520.5,539.0 516.5,545.0 514.0,552.0 452.0,553.0 446.5,545.5"/><polygon points="298.5,484.5 375.5,478.0 378.0,547.0 376.5,550.5 300.0,551.0 250.0,520.0 278.0,514.0"/><polygon points="376.5,550.5 378.0,547.0 446.5,545.5 452.0,553.0 450.5,618.5 380.5,616.5"/><polygon points="452.0,553.0 514.0,552.0 524.0,616.0 514.0,625.5 450.5,618.5"/><polygon points="520.5,482.5 596.0,483.0 660.0,480.0 700.0,460.0 705.0,547.0 662.5,551.0 582.5,549.0 516.5,545.0 520.5,539.0"/><polygon points="516.5,545.0 582.5,549.0 582.5,617.5 524.0,616.0 514.0,552.0"/><polygon points="582.5,549.0 662.5,551.0 655.0,609.0 646.0,637.0 615.0,634.5 606.0,658.5 515.5,682.5 514.0,625.5 524.0,616.0 582.5,617.5"/><polygon points="662.5,551.0 705.0,547.0 850.0,700.0 750.0,617.0 723.5,625.0 655.0,609.0"/><polygon points="655.0,609.0 723.5,625.0 717.0,680.5 727.0,691.0 724.5,752.5 661.0,747.0 642.0,677.0 654.5,657.5 646.0,637.0"/><polygon points="750.0,617.0 850.0,700.0 790.0,684.0 727.0,691.0 717.0,680.5 723.5,625.0"/><polygon points="727.0,691.0 790.0,684.0 850.0,700.0 860.0,790.0 758.0,795.0 724.5,752.5"/><polygon points="653.0,757.0 661.0,747.0 724.5,752.5 758.0,795.0 860.0,790.0 470.0,840.0 651.0,810.0"/><polygon points="615.0,634.5 646.0,637.0 654.5,657.5 642.0,677.0 619.0,677.0 606.0,658.5"/><polygon points="515.5,682.5 606.0,658.5 619.0,677.0 588.5,719.0 586.5,747.5 576.0,760.0 514.0,761.5 509.0,750.5 505.0,700.0"/><polygon points="450.5,618.5 514.0,625.5 515.5,682.5 505.0,700.0 449.5,694.0 444.0,684.5"/><polygon points="380.5,616.5 450.5,618.5 444.0,684.5 380.0,693.0 330.0,640.0 358.0,648.0"/><polygon points="380.0,693.0 444.0,684.5 449.5,694.0 436.0,775.0 470.0,840.0 330.0,640.0"/><polygon points="514.0,761.5 576.0,760.0 588.0,815.0 470.0,840.0 506.0,825.0"/></clipPath>
<g clip-path="url(#ny)"><path d="M424.5,122.5 L283.0,172.0 L140.0,305.0 L276.0,498.0 L316.0,560.0 L351.0,610.0 L377.5,660.0 L473.0,817.0 L560.0,811.0 L650.0,800.0 L744.0,787.5 L833.0,774.5 L787.0,700.0 L750.0,640.0 L704.0,566.0 L675.0,520.0 L655.0,490.0 L618.0,431.0 L538.0,312.0 L507.0,260.0 L477.0,207.0 L455.0,170.0 L438.0,138.0 Z" stroke="#E82A5E" stroke-opacity="0.55" stroke-width="16" fill="none"/></g>
<path d="M424.5,122.5 L283.0,172.0 L140.0,305.0 L276.0,498.0 L316.0,560.0 L351.0,610.0 L377.5,660.0 L473.0,817.0 L560.0,811.0 L650.0,800.0 L744.0,787.5 L833.0,774.5 L787.0,700.0 L750.0,640.0 L704.0,566.0 L675.0,520.0 L655.0,490.0 L618.0,431.0 L538.0,312.0 L507.0,260.0 L477.0,207.0 L455.0,170.0 L438.0,138.0 Z" stroke="#000" stroke-width="8.2" fill="none"/>
</g>
<path d="M424.5,122.5 L283.0,172.0 L140.0,305.0 L276.0,498.0 L316.0,560.0 L351.0,610.0 L377.5,660.0 L473.0,817.0 L560.0,811.0 L650.0,800.0 L744.0,787.5 L833.0,774.5 L787.0,700.0 L750.0,640.0 L704.0,566.0 L675.0,520.0 L655.0,490.0 L618.0,431.0 L538.0,312.0 L507.0,260.0 L477.0,207.0 L455.0,170.0 L438.0,138.0 Z" stroke="#A13A9D" stroke-width="5" fill="none" stroke-linejoin="round"/>
<circle cx="199.0" cy="241.0" r="4.0" fill="#CC4038" stroke="#6e2a22" stroke-width="0.9"/>
<text x="449.6" y="234.6" text-anchor="middle" font-family="Liberation Sans" font-size="30" fill="#1c242c" stroke="#fdfdfb" stroke-width="7.8" stroke-linejoin="round" paint-order="stroke">ko,y</text>
<text x="507.3" y="513.2" text-anchor="middle" font-family="Liberation Sans" font-size="30" fill="#1c242c" stroke="#fdfdfb" stroke-width="7.8" stroke-linejoin="round" paint-order="stroke">ao</text>
<text x="358.2" y="584.3" text-anchor="middle" font-family="Liberation Sans" font-size="30" fill="#1c242c" stroke="#fdfdfb" stroke-width="7.8" stroke-linejoin="round" paint-order="stroke">U</text>
<text x="625.5" y="573.6" text-anchor="middle" font-family="Liberation Sans" font-size="30" fill="#1c242c" stroke="#fdfdfb" stroke-width="7.8" stroke-linejoin="round" paint-order="stroke">y</text>
<text x="713.6" y="592.4" text-anchor="middle" font-family="Liberation Sans" font-size="30" fill="#1c242c" stroke="#fdfdfb" stroke-width="7.8" stroke-linejoin="round" paint-order="stroke">y</text>
<text x="562.7" y="658.7" text-anchor="middle" font-family="Liberation Sans" font-size="30" fill="#1c242c" stroke="#fdfdfb" stroke-width="7.8" stroke-linejoin="round" paint-order="stroke">y</text>
<text x="527.5" y="722.6" text-anchor="middle" font-family="Liberation Sans" font-size="30" fill="#1c242c" stroke="#fdfdfb" stroke-width="7.8" stroke-linejoin="round" paint-order="stroke">ko</text>
<text x="770.0" y="719.7" text-anchor="middle" font-family="Liberation Sans" font-size="30" fill="#1c242c" stroke="#fdfdfb" stroke-width="7.8" stroke-linejoin="round" paint-order="stroke">y</text>
<polygon points="79.7,74 79.7,131.4 43,166.5" fill="#cfcfcf"/>
<line x1="79.7" y1="75" x2="79.7" y2="131.4" stroke="#999" stroke-width="0.8"/>
<polygon points="79.7,74 115.9,166.5 79.7,131.4 43,166.5" fill="none" stroke="#000" stroke-width="4" stroke-linejoin="miter"/>
<rect x="43" y="780" width="106" height="27.5" fill="#000"/>
<rect x="149" y="781" width="103" height="25.5" fill="#fff" stroke="#000" stroke-width="2"/>
<text x="33" y="756.6" font-family="Liberation Serif" font-size="40.5" fill="#000">0</text>
<text x="129" y="756.6" font-family="Liberation Serif" font-size="40.5" fill="#000">50</text>
<text x="215" y="756.6" font-family="Liberation Serif" font-size="40.5" fill="#000">100 м</text>
<g fill="#000">
<circle cx="763.0" cy="90.0" r="1.4"/>
<circle cx="779.5" cy="90.0" r="1.4"/>
<circle cx="796.0" cy="90.0" r="1.4"/>
<circle cx="813.0" cy="90.0" r="1.4"/>
<circle cx="771.5" cy="107.0" r="2.2"/>
<circle cx="788.0" cy="107.0" r="2.2"/>
<circle cx="804.5" cy="107.0" r="2.2"/>
<circle cx="820.5" cy="107.0" r="2.2"/>
<circle cx="763.0" cy="123.0" r="1.4"/>
<circle cx="779.5" cy="123.0" r="1.4"/>
<circle cx="796.0" cy="123.0" r="1.4"/>
<circle cx="813.0" cy="123.0" r="1.4"/>
</g>
<path d="M784.7,178 L791.3,172.6" stroke="#000" stroke-width="2.2"/>
<circle cx="820" cy="145" r="0.7" fill="#777"/>
<path d="M763.7,225.3 L790,199 M784.7,231.8 L809.7,209.5 M815,230.5 L821.6,224" stroke="#000" stroke-width="2.8"/>
<path d="M763.7,279.2 L791.3,252.9 M784.7,285.8 L819,252.9 M815,284.5 L821.6,278" stroke="#000" stroke-width="2.8"/>
<text x="838" y="124" font-family="Liberation Serif" font-size="41" fill="#000">10–20</text>
<text x="838" y="178" font-family="Liberation Serif" font-size="41" fill="#000">20–30</text>
<text x="838" y="232" font-family="Liberation Serif" font-size="41" fill="#000">30–40</text>
<text x="838" y="286" font-family="Liberation Serif" font-size="41" fill="#000">40–50</text>
<rect x="773" y="329" width="58.5" height="33" rx="1.5" fill="#DBA1CB" stroke="#111" stroke-width="2.2"/>
<text x="848" y="362" font-family="Liberation Serif" font-size="41" fill="#000">I</text>
<rect x="773" y="383" width="58.5" height="33" rx="1.5" fill="#FDDC8D" stroke="#111" stroke-width="2.2"/>
<text x="848" y="416" font-family="Liberation Serif" font-size="41" fill="#000">II</text>
<rect x="773" y="436" width="58.5" height="33" rx="1.5" fill="#FECB17" stroke="#111" stroke-width="2.2"/>
<text x="848" y="469" font-family="Liberation Serif" font-size="41" fill="#000">III</text>
<rect x="773" y="490" width="58.5" height="33" rx="1.5" fill="#FCCFA8" stroke="#111" stroke-width="2.2"/>
<text x="848" y="523" font-family="Liberation Serif" font-size="41" fill="#000">IV</text>
<rect x="773" y="544" width="58.5" height="33" rx="1.5" fill="#F9A34C" stroke="#111" stroke-width="2.2"/>
<text x="848" y="577" font-family="Liberation Serif" font-size="41" fill="#000">V</text>
<circle cx="853" cy="671" r="0.9" fill="#555"/>
</svg></body></html>
